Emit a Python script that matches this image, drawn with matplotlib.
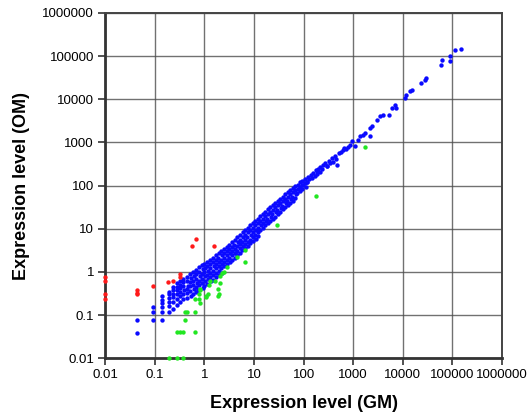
#!/usr/bin/env python3
"""
Scatter of expression levels, GM vs OM, on log-log axes.
Blue = similar, red = higher in OM, green = higher in GM.
"""

import matplotlib
matplotlib.use("Agg")
import matplotlib.pyplot as plt
from matplotlib.ticker import FixedLocator, FixedFormatter, NullLocator

# Ticks
TICKS = [0.01, 0.1, 1, 10, 100, 1000, 10000, 100000, 1000000]
TICK_LABELS = ["0.01", "0.1", "1", "10", "100", "1000", "10000", "100000", "1000000"]

# Blue points (GM, OM)
blue_gm = [
    0.045, 0.045,
    0.092, 0.092, 0.092,
    0.14, 0.14, 0.14, 0.14, 0.14, 0.14,
    0.19, 0.19, 0.19, 0.19, 0.19, 0.19,
    0.23, 0.23, 0.23, 0.23, 0.23, 0.23,
    0.28, 0.28, 0.28, 0.28, 0.28, 0.28,
    0.33, 0.33, 0.33, 0.33, 0.33, 0.33,
    0.38, 0.37, 0.38, 0.39, 0.38, 0.38,
    0.45, 0.44, 0.46, 0.45, 0.45, 0.44,
    0.52, 0.53, 0.51, 0.52, 0.52, 0.53,
    0.60, 0.61, 0.59, 0.60, 0.62, 0.60,
    0.68, 0.69, 0.67, 0.70, 0.68, 0.69,
    0.78, 0.77, 0.80, 0.78, 0.79, 0.76,
    0.90, 0.92, 0.88, 0.91, 0.90, 0.93,
    1.00, 1.02, 0.98, 1.03, 1.01, 0.99,
    1.15, 1.13, 1.17, 1.14, 1.18, 1.15,
    1.30, 1.33, 1.28, 1.31, 1.29, 1.34,
    1.50, 1.47, 1.53, 1.49, 1.52, 1.48,
    1.70, 1.74, 1.68, 1.72, 1.69, 1.73,
    1.95, 1.92, 1.98, 1.94, 1.97, 1.93,
    2.20, 2.25, 2.17, 2.22, 2.19, 2.24,
    2.50, 2.46, 2.54, 2.49, 2.52,
    2.85, 2.90, 2.80, 2.88, 2.83,
    3.20, 3.15, 3.26, 3.18, 3.24,
    3.60, 3.67, 3.55, 3.63, 3.58,
    4.10, 4.03, 4.18, 4.07, 4.14,
    4.60, 4.68, 4.55, 4.64, 4.57,
    5.20, 5.12, 5.30, 5.17, 5.26,
    5.90, 6.00, 5.82, 5.95, 5.86,
    6.60, 6.50, 6.72, 6.58, 6.67,
    7.50, 7.62, 7.40, 7.55, 7.45,
    8.40, 8.30, 8.55, 8.36, 8.48,
    9.50, 9.65, 9.38, 9.56, 9.42,
    10.7, 10.5, 10.9, 10.6, 10.8,
    12.0, 12.2, 11.8, 12.1, 11.9,
    13.5, 13.3, 13.7, 13.4,
    15.2, 15.5, 15.0, 15.3,
    17.0, 16.7, 17.3, 16.9,
    19.0, 19.4, 18.7, 19.2,
    21.5, 21.1, 21.9, 21.3,
    24.0, 24.5, 23.6, 24.2,
    27.0, 26.5, 27.5, 26.8,
    30.0, 30.6, 29.5, 30.3,
    34.0, 33.4, 34.7, 33.8,
    38.0, 38.8, 37.3, 38.4,
    43.0, 42.2, 43.8, 42.6,
    48.0, 49.0, 47.2, 48.5,
    54.0, 53.0, 55.0, 53.6,
    60.0, 61.2, 59.0, 60.6,
    68.0, 66.8, 69.3, 67.5,
    76.0, 77.5, 74.7,
    85.0, 83.5, 86.6,
    95.0, 96.9, 93.3,
    107, 105, 110,
    122, 118,
    138, 131,
    155, 149,
    174, 167,
    196, 186,
    219, 211,
    248, 236,
    272, 290,
    318, 345,
    372, 398,
    430, 460,
    469, 295, 185, 117, 92,
    505, 560, 620, 700, 780, 860,
    638, 942, 1097, 1384, 1746, 2203, 2375, 2203, 1250, 1560,
    3006, 3502, 5150, 6030, 7030, 7320, 4000,
    11170, 11600, 14100, 15200,
    23170, 28300, 29900,
    58600, 61400, 90400, 90400, 113800, 148000,
]
blue_om = [
    0.077, 0.039,
    0.157, 0.12, 0.077,
    0.27, 0.22, 0.19, 0.15, 0.12, 0.077,
    0.35, 0.30, 0.25, 0.20, 0.16, 0.12,
    0.45, 0.38, 0.31, 0.26, 0.20, 0.14,
    0.55, 0.45, 0.38, 0.30, 0.24, 0.17,
    0.62, 0.50, 0.42, 0.34, 0.27, 0.20,
    0.70, 0.57, 0.46, 0.37, 0.30, 0.23,
    0.75, 0.60, 0.48, 0.40, 0.32, 0.25,
    0.90, 0.72, 0.58, 0.46, 0.36, 0.28,
    1.00, 0.80, 0.62, 0.50, 0.40, 0.30,
    1.10, 0.90, 0.70, 0.56, 0.45, 0.34,
    1.30, 1.00, 0.80, 0.62, 0.50, 0.37,
    1.45, 1.15, 0.90, 0.70, 0.55, 0.42,
    1.55, 1.25, 1.00, 0.80, 0.62, 0.48,
    1.70, 1.35, 1.05, 0.85, 0.68, 0.52,
    1.90, 1.50, 1.20, 0.95, 0.75, 0.60,
    2.10, 1.70, 1.35, 1.05, 0.85, 0.65,
    2.40, 1.90, 1.50, 1.20, 0.95, 0.75,
    2.70, 2.10, 1.70, 1.35, 1.05, 0.85,
    3.00, 2.40, 1.90, 1.50, 1.20, 0.95,
    3.30, 2.70, 2.10, 1.70, 1.35,
    3.70, 3.00, 2.40, 1.90, 1.50,
    4.20, 3.40, 2.70, 2.10, 1.70,
    4.80, 3.80, 3.00, 2.40, 1.90,
    5.50, 4.30, 3.40, 2.70, 2.10,
    6.30, 5.00, 3.90, 3.10, 2.40,
    7.20, 5.60, 4.40, 3.50, 2.80,
    8.20, 6.40, 5.00, 3.90, 3.20,
    9.20, 7.20, 5.60, 4.40, 3.60,
    10.5, 8.20, 6.40, 5.00, 4.00,
    12.0, 9.30, 7.20, 5.60, 4.60,
    13.5, 10.5, 8.20, 6.40, 5.20,
    15.0, 12.0, 9.30, 7.20, 5.90,
    17.0, 13.5, 10.5, 8.20, 6.60,
    19.5, 15.0, 12.0, 9.30,
    22.0, 17.0, 13.5, 10.5,
    25.0, 19.5, 15.0, 12.0,
    28.0, 22.0, 17.0, 13.5,
    31.0, 24.5, 19.0, 15.0,
    35.0, 27.5, 21.5, 17.0,
    39.0, 31.0, 24.0, 19.0,
    44.0, 35.0, 27.0, 21.5,
    49.0, 39.0, 30.0, 24.5,
    55.0, 44.0, 34.0, 28.0,
    62.0, 49.0, 39.0, 31.0,
    69.0, 55.0, 44.0, 35.0,
    77.0, 62.0, 49.0, 40.0,
    86.0, 69.0, 55.0, 45.0,
    96.0, 78.0, 62.0, 51.0,
    105, 82.0, 68.0,
    118, 92.0, 76.0,
    130, 104, 85.0,
    142, 115, 92.0,
    160, 118,
    175, 140,
    200, 150,
    225, 170,
    245, 190,
    275, 210,
    300, 240,
    325, 285,
    380, 330,
    430, 350,
    480, 420,
    304, 277, 212, 124, 104,
    560, 600, 680, 720, 800, 880,
    741, 1055, 808, 1378, 1652, 2158, 2351, 1430, 1150, 1500,
    3238, 4010, 4393, 6280, 7500, 6280, 4300,
    10720, 12800, 15250, 16700,
    23900, 28500, 30500,
    63500, 83000, 75700, 102700, 141600, 147000,
]

# Red points: higher in OM
red_gm = [0.01, 0.01, 0.01, 0.01, 0.045, 0.045, 0.045, 0.092,
          0.186, 0.23, 0.325, 0.325, 0.56, 0.68, 1.58]
red_om = [0.77, 0.60, 0.31, 0.23, 0.37, 0.33, 0.30, 0.47,
          0.58, 0.60, 0.90, 0.78, 3.9, 5.8, 4.0]

# Green points: higher in GM
green_gm = [0.19, 0.28, 0.37,
            0.28, 0.325, 0.37, 0.65,
            0.41,
            0.41, 0.456, 0.65,
            0.65, 0.785, 0.82, 0.785, 0.82, 0.82,
            1.07, 1.16, 1.07,
            1.27, 1.33, 1.67, 1.85, 1.95, 1.88,
            2.08, 2.08, 2.25, 2.54, 2.84, 4.65, 6.65, 6.65,
            29, 179, 1690]
green_om = [0.01, 0.01, 0.01,
            0.04, 0.04, 0.04, 0.04,
            0.077,
            0.12, 0.12, 0.12,
            0.23, 0.23, 0.19, 0.31, 0.37, 0.40,
            0.26, 0.31, 0.28,
            0.49, 0.60, 0.60, 0.40, 0.31, 0.28,
            0.81, 0.55, 0.93, 0.98, 1.33, 2.26, 3.24, 1.73,
            12.3, 56, 782]

plt.rcParams['font.family'] = ['Liberation Sans', 'DejaVu Sans']

fig = plt.figure(figsize=(5.28, 4.16), dpi=100)
ax = fig.add_axes([0.199, 0.139, 0.752, 0.830])

dot = dict(s=10, linewidths=0, clip_on=False)
ax.scatter(blue_gm, blue_om, color='#0a0aff', zorder=3, **dot)
ax.scatter(red_gm, red_om, color='#ff1a1a', zorder=4, **dot)
ax.scatter(green_gm, green_om, color='#22e622', zorder=4, **dot)

ax.set_xscale('log')
ax.set_yscale('log')
ax.set_xlim(0.01, 1000000)
ax.set_ylim(0.01, 1000000)

for axis in (ax.xaxis, ax.yaxis):
    axis.set_major_locator(FixedLocator(TICKS))
    axis.set_major_formatter(FixedFormatter(TICK_LABELS))
    axis.set_minor_locator(NullLocator())

ax.tick_params(axis='both', direction='out', length=5, width=1.2,
               color='#333333', labelsize=9.5, pad=3)
ax.grid(True, color='#4d4d4d', linewidth=1.0, alpha=0.8)
ax.set_axisbelow(True)

for side in ('left', 'bottom'):
    ax.spines[side].set_linewidth(2.0)
    ax.spines[side].set_color('#333333')
for side in ('top', 'right'):
    ax.spines[side].set_linewidth(1.4)
    ax.spines[side].set_color('#444444')

ax.set_xlabel('Expression level (GM)', fontsize=13, fontweight='bold', labelpad=10)
ax.set_ylabel('Expression level (OM)', fontsize=13, fontweight='bold', labelpad=9)

plt.savefig('out.png', dpi=100)
